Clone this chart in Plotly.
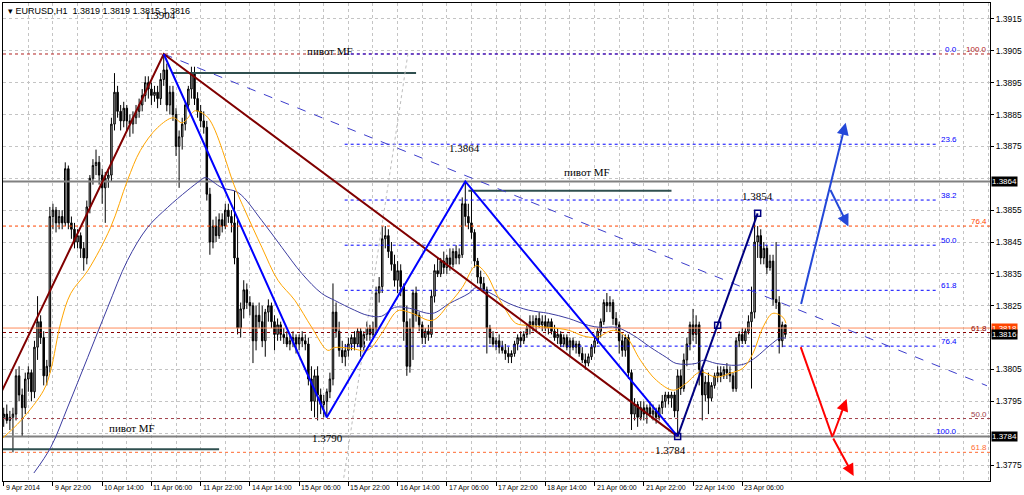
import plotly.graph_objects as go

# ---------------- DATA ----------------
opens = [
1.3790,1.3791,1.3789,1.3790,1.3791,1.3803,1.3797,1.3793,1.3802,1.3804,
1.3798,1.3812,1.3820,1.3815,1.3803,1.3806,1.3853,1.3855,1.3851,1.3853,
1.3851,1.3868,1.3851,1.3849,1.3845,1.3847,1.3843,1.3840,1.3856,1.3865,
1.3869,1.3870,1.3866,1.3862,1.3865,1.3866,1.3882,1.3892,1.3886,1.3883,
1.3887,1.3883,1.3882,1.3884,1.3886,1.3888,1.3891,1.3895,1.3893,1.3891,
1.3892,1.3890,1.3896,1.3899,1.3888,1.3892,1.3885,1.3875,1.3878,1.3882,
1.3888,1.3893,1.3898,1.3890,1.3886,1.3883,1.3881,1.3860,1.3845,1.3850,
1.3847,1.3852,1.3850,1.3855,1.3853,1.3851,1.3840,1.3818,1.3824,1.3830,
1.3826,1.3825,1.3814,1.3822,1.3820,1.3814,1.3823,1.3825,1.3820,1.3816,
1.3819,1.3816,1.3815,1.3813,1.3814,1.3815,1.3813,1.3815,1.3814,1.3813,
1.3802,1.3795,1.3803,1.3797,1.3794,1.3795,1.3798,1.3802,1.3823,1.3817,
1.3811,1.3809,1.3811,1.3813,1.3815,1.3813,1.3817,1.3812,1.3816,1.3818,
1.3816,1.3818,1.3829,1.3831,1.3846,1.3847,1.3842,1.3838,1.3833,1.3836,
1.3831,1.3820,1.3806,1.3818,1.3829,1.3822,1.3819,1.3815,1.3817,1.3816,
1.3828,1.3836,1.3835,1.3839,1.3837,1.3840,1.3838,1.3842,1.3840,1.3841,
1.3857,1.3853,1.3851,1.3848,1.3839,1.3834,1.3832,1.3830,1.3818,1.3815,
1.3813,1.3814,1.3812,1.3811,1.3810,1.3809,1.3810,1.3813,1.3815,1.3814,
1.3816,1.3818,1.3820,1.3819,1.3821,1.3819,1.3820,1.3818,1.3820,1.3817,
1.3815,1.3816,1.3813,1.3815,1.3812,1.3814,1.3812,1.3813,1.3810,1.3808,
1.3807,1.3809,1.3812,1.3814,1.3817,1.3820,1.3826,1.3825,1.3826,1.3821,
1.3819,1.3814,1.3811,1.3815,1.3804,1.3791,1.3794,1.3790,1.3793,1.3791,
1.3793,1.3791,1.3792,1.3790,1.3793,1.3795,1.3797,1.3796,1.3797,1.3792,
1.3803,1.3799,1.3808,1.3813,1.3819,1.3816,1.3819,1.3805,1.3797,1.3801,
1.3796,1.3800,1.3803,1.3804,1.3803,1.3805,1.3804,1.3803,1.3799,1.3814,
1.3816,1.3814,1.3817,1.3820,1.3823,1.3845,1.3847,1.3840,1.3843,1.3837,
1.3839,1.3827,1.3826,1.3814,1.3819]
highs = [
1.3793,1.3794,1.3792,1.3793,1.3805,1.3806,1.3799,1.3804,1.3806,1.3805,
1.3814,1.3828,1.3822,1.3817,1.3808,1.3856,1.3857,1.3856,1.3855,1.3855,
1.3870,1.3869,1.3853,1.3851,1.3849,1.3848,1.3845,1.3858,1.3866,1.3871,
1.3874,1.3872,1.3868,1.3867,1.3868,1.3884,1.3898,1.3894,1.3888,1.3889,
1.3888,1.3885,1.3886,1.3888,1.3890,1.3893,1.3897,1.3897,1.3895,1.3894,
1.3894,1.3898,1.3904,1.3901,1.3894,1.3894,1.3887,1.3880,1.3884,1.3889,
1.3894,1.3900,1.3900,1.3892,1.3888,1.3886,1.3883,1.3862,1.3852,1.3853,
1.3854,1.3854,1.3857,1.3857,1.3855,1.3861,1.3852,1.3826,1.3833,1.3832,
1.3828,1.3826,1.3825,1.3826,1.3825,1.3824,1.3827,1.3826,1.3822,1.3821,
1.3820,1.3818,1.3817,1.3816,1.3817,1.3816,1.3816,1.3817,1.3816,1.3815,
1.3806,1.3805,1.3806,1.3799,1.3797,1.3799,1.3804,1.3832,1.3826,1.3820,
1.3814,1.3813,1.3815,1.3816,1.3817,1.3818,1.3818,1.3817,1.3820,1.3819,
1.3820,1.3831,1.3834,1.3850,1.3850,1.3849,1.3845,1.3841,1.3839,1.3838,
1.3832,1.3825,1.3821,1.3830,1.3831,1.3823,1.3820,1.3818,1.3819,1.3830,
1.3838,1.3840,1.3840,1.3842,1.3841,1.3843,1.3843,1.3844,1.3843,1.3859,
1.3864,1.3857,1.3862,1.3849,1.3840,1.3836,1.3834,1.3831,1.3819,1.3817,
1.3815,1.3816,1.3814,1.3813,1.3812,1.3811,1.3814,1.3816,1.3817,1.3817,
1.3819,1.3822,1.3822,1.3822,1.3823,1.3822,1.3822,1.3821,1.3821,1.3819,
1.3818,1.3817,1.3816,1.3816,1.3815,1.3815,1.3814,1.3814,1.3812,1.3810,
1.3810,1.3813,1.3815,1.3818,1.3821,1.3827,1.3829,1.3828,1.3827,1.3823,
1.3820,1.3816,1.3816,1.3816,1.3805,1.3796,1.3795,1.3795,1.3795,1.3794,
1.3795,1.3794,1.3793,1.3794,1.3797,1.3798,1.3798,1.3798,1.3798,1.3805,
1.3805,1.3810,1.3815,1.3820,1.3824,1.3822,1.3820,1.3806,1.3803,1.3804,
1.3801,1.3804,1.3806,1.3806,1.3806,1.3807,1.3806,1.3804,1.3815,1.3817,
1.3818,1.3818,1.3822,1.3831,1.3854,1.3850,1.3849,1.3845,1.3844,1.3841,
1.3841,1.3845,1.3828,1.3820,1.3819]
lows = [
1.3787,1.3788,1.3786,1.3779,1.3789,1.3795,1.3784,1.3791,1.3798,1.3795,
1.3796,1.3808,1.3813,1.3800,1.3800,1.3804,1.3849,1.3848,1.3849,1.3849,
1.3850,1.3849,1.3846,1.3843,1.3843,1.3840,1.3836,1.3838,1.3854,1.3863,
1.3866,1.3863,1.3857,1.3851,1.3862,1.3864,1.3880,1.3884,1.3880,1.3881,
1.3880,1.3878,1.3879,1.3882,1.3884,1.3886,1.3889,1.3890,1.3888,1.3889,
1.3887,1.3888,1.3894,1.3886,1.3885,1.3883,1.3872,1.3862,1.3874,1.3880,
1.3886,1.3890,1.3888,1.3884,1.3881,1.3879,1.3858,1.3841,1.3843,1.3845,
1.3846,1.3848,1.3849,1.3851,1.3848,1.3838,1.3816,1.3815,1.3821,1.3824,
1.3822,1.3807,1.3811,1.3818,1.3812,1.3809,1.3820,1.3818,1.3811,1.3814,
1.3814,1.3813,1.3812,1.3811,1.3812,1.3810,1.3811,1.3812,1.3811,1.3800,
1.3792,1.3790,1.3789,1.3791,1.3790,1.3790,1.3796,1.3800,1.3815,1.3809,
1.3807,1.3806,1.3809,1.3811,1.3811,1.3812,1.3809,1.3811,1.3814,1.3814,
1.3815,1.3816,1.3826,1.3829,1.3843,1.3840,1.3836,1.3831,1.3829,1.3828,
1.3814,1.3803,1.3804,1.3808,1.3820,1.3817,1.3813,1.3813,1.3814,1.3815,
1.3826,1.3834,1.3834,1.3835,1.3835,1.3836,1.3837,1.3838,1.3838,1.3840,
1.3850,1.3849,1.3846,1.3837,1.3832,1.3830,1.3829,1.3810,1.3813,1.3812,
1.3811,1.3810,1.3810,1.3808,1.3807,1.3807,1.3809,1.3811,1.3812,1.3813,
1.3815,1.3816,1.3817,1.3817,1.3818,1.3817,1.3817,1.3816,1.3816,1.3814,
1.3813,1.3812,1.3812,1.3811,1.3809,1.3811,1.3810,1.3809,1.3807,1.3805,
1.3806,1.3808,1.3810,1.3813,1.3815,1.3819,1.3823,1.3823,1.3819,1.3817,
1.3810,1.3809,1.3809,1.3802,1.3786,1.3789,1.3787,1.3789,1.3789,1.3788,
1.3790,1.3789,1.3788,1.3789,1.3791,1.3793,1.3794,1.3793,1.3790,1.3784,
1.3797,1.3798,1.3806,1.3811,1.3814,1.3813,1.3800,1.3789,1.3795,1.3791,
1.3795,1.3799,1.3801,1.3801,1.3802,1.3802,1.3801,1.3798,1.3798,1.3812,
1.3813,1.3813,1.3816,1.3799,1.3821,1.3840,1.3838,1.3838,1.3835,1.3836,
1.3825,1.3824,1.3810,1.3812,1.3815]
closes = [
1.3791,1.3789,1.3790,1.3791,1.3803,1.3797,1.3793,1.3802,1.3804,1.3798,
1.3812,1.3820,1.3815,1.3803,1.3806,1.3853,1.3855,1.3851,1.3853,1.3851,
1.3868,1.3851,1.3849,1.3845,1.3847,1.3843,1.3840,1.3856,1.3865,1.3869,
1.3870,1.3866,1.3862,1.3865,1.3866,1.3882,1.3892,1.3886,1.3883,1.3887,
1.3883,1.3882,1.3884,1.3886,1.3888,1.3891,1.3895,1.3893,1.3891,1.3892,
1.3890,1.3896,1.3899,1.3888,1.3892,1.3885,1.3875,1.3878,1.3882,1.3888,
1.3893,1.3898,1.3890,1.3886,1.3883,1.3881,1.3860,1.3845,1.3850,1.3847,
1.3852,1.3850,1.3855,1.3853,1.3851,1.3840,1.3818,1.3824,1.3830,1.3826,
1.3825,1.3814,1.3822,1.3820,1.3814,1.3823,1.3825,1.3820,1.3816,1.3819,
1.3816,1.3815,1.3813,1.3814,1.3815,1.3813,1.3815,1.3814,1.3813,1.3802,
1.3795,1.3803,1.3797,1.3794,1.3795,1.3798,1.3802,1.3823,1.3817,1.3811,
1.3809,1.3811,1.3813,1.3815,1.3813,1.3817,1.3812,1.3816,1.3818,1.3816,
1.3818,1.3829,1.3831,1.3846,1.3847,1.3842,1.3838,1.3833,1.3836,1.3831,
1.3820,1.3806,1.3818,1.3829,1.3822,1.3819,1.3815,1.3817,1.3816,1.3828,
1.3836,1.3835,1.3839,1.3837,1.3840,1.3838,1.3842,1.3840,1.3841,1.3857,
1.3853,1.3851,1.3848,1.3839,1.3834,1.3832,1.3830,1.3818,1.3815,1.3813,
1.3814,1.3812,1.3811,1.3810,1.3809,1.3810,1.3813,1.3815,1.3814,1.3816,
1.3818,1.3820,1.3819,1.3821,1.3819,1.3820,1.3818,1.3820,1.3817,1.3815,
1.3816,1.3813,1.3815,1.3812,1.3814,1.3812,1.3813,1.3810,1.3808,1.3807,
1.3809,1.3812,1.3814,1.3817,1.3820,1.3826,1.3825,1.3826,1.3821,1.3819,
1.3814,1.3811,1.3815,1.3804,1.3791,1.3794,1.3790,1.3793,1.3791,1.3793,
1.3791,1.3792,1.3790,1.3793,1.3795,1.3797,1.3796,1.3797,1.3792,1.3803,
1.3799,1.3808,1.3813,1.3819,1.3816,1.3819,1.3805,1.3797,1.3801,1.3796,
1.3800,1.3803,1.3804,1.3803,1.3805,1.3804,1.3803,1.3799,1.3814,1.3816,
1.3814,1.3817,1.3820,1.3823,1.3845,1.3847,1.3840,1.3843,1.3837,1.3839,
1.3827,1.3826,1.3814,1.3819,1.3816]

# time axis labels (bar index of each label)
tick_pos = [0, 16, 32, 48, 64, 80, 96, 112, 128, 144, 160, 176, 192, 208, 224, 240]
tick_labels = ["9 Apr 2014", "9 Apr 22:00", "10 Apr 14:00", "11 Apr 06:00", "11 Apr 22:00",
               "14 Apr 14:00", "15 Apr 06:00", "15 Apr 22:00", "16 Apr 14:00", "17 Apr 06:00",
               "17 Apr 22:00", "18 Apr 14:00", "21 Apr 06:00", "21 Apr 22:00", "22 Apr 14:00",
               "23 Apr 06:00"]
price_ticks = [1.3915, 1.3905, 1.3895, 1.3885, 1.3875, 1.3855, 1.3845, 1.3835,
               1.3825, 1.3805, 1.3795, 1.3775]

# moving averages
ma_fast_x = [-0.3, 5.6, 13, 15.3, 18.5, 21.8, 27.3, 34.7, 40.2, 44.4, 50, 55.1, 58, 61.3, 62.3,
             66.4, 75.2, 78.4, 83.9, 89.1, 94.6, 100.1, 105.3, 107.5, 113, 118.2, 122.8, 127,
             128.6, 132.8, 139.3, 144.8, 149, 153.5, 156.7, 160, 163.2, 166.4, 170.6, 177.1,
             183.6, 188.4, 192.7, 198.2, 202.4, 206.9, 212.1, 217.6, 221.8, 226.3, 231.5, 236,
             240.2, 243.5, 246.7, 249.9, 253.2, 254.2]
ma_fast_y = [1.37835, 1.3789, 1.37985, 1.38048, 1.38195, 1.38289, 1.3836, 1.38495, 1.38643,
             1.38737, 1.38809, 1.3884, 1.38824, 1.38856, 1.38862, 1.3884, 1.3862, 1.38549,
             1.38433, 1.3833, 1.38267, 1.38182, 1.3811, 1.38119, 1.38116, 1.3811, 1.38163,
             1.38226, 1.38236, 1.38226, 1.38204, 1.38257, 1.38307, 1.38376, 1.38351, 1.38289,
             1.38236, 1.38195, 1.38188, 1.38182, 1.38173, 1.38155, 1.38151, 1.38173, 1.38151,
             1.38079, 1.38016, 1.37985, 1.38007, 1.38042, 1.38026, 1.38038, 1.38054, 1.38101,
             1.38182, 1.38226, 1.38214, 1.38195]
ma_slow_x = [9.8, 15.3, 20.8, 27.3, 33.8, 40.2, 46.7, 53.2, 59.6, 63.9, 65.5, 71, 76.2, 83.9,
             90.4, 96.9, 103.3, 107.5, 114, 118.2, 122.8, 127, 131.8, 139.3, 144.8, 151.2,
             153.5, 157.7, 164.2, 170.6, 177.1, 183.6, 190.1, 194, 199.1, 204.6, 210.1, 215.3,
             218.5, 225, 227.3, 231.5, 238, 241.2, 244.4, 249, 252.2, 254.2]
ma_slow_y = [1.37725, 1.37806, 1.37932, 1.38088, 1.38245, 1.38392, 1.38495, 1.38558, 1.38611,
             1.38643, 1.38652, 1.3862, 1.38605, 1.38517, 1.38433, 1.38351, 1.38289, 1.38267,
             1.38236, 1.3822, 1.38217, 1.38245, 1.38242, 1.38226, 1.38257, 1.38289, 1.38307,
             1.38292, 1.38257, 1.38236, 1.38226, 1.3821, 1.38188, 1.38182, 1.38182, 1.38157,
             1.3812, 1.38088, 1.38069, 1.38069, 1.38079, 1.38069, 1.38063, 1.38069, 1.38088,
             1.38126, 1.38148, 1.38148]

# drawn objects (bar index, price)
zigzag_x = [52, 105, 150, 219]
zigzag_y = [1.3904, 1.3790, 1.3864, 1.3784]
last_leg_x = [219, 232, 245]
last_leg_y = [1.3784, 1.38189, 1.3854]
maroon_x = [-0.9, 52, 219]
maroon_y = [1.37976, 1.3904, 1.3784]
trend_dash_x = [52, 319.5]
trend_dash_y = [1.3904, 1.37999]
gray_diag_x = [110.5, 131.5]
gray_diag_y = [1.3771, 1.3905]

blue_fib_hi, blue_fib_lo = 1.3904, 1.3784
blue_fib_levels = [0.0, 23.6, 38.2, 50.0, 61.8, 76.4, 100.0]
blue_fib_x = [110.8, 303.3]

red_fib_prices = [1.3904, 1.3850, 1.38166, 1.37896, 1.3779]
red_fib_labels = ["100.0", "76.4", "61.8", "50.0", "61.8"]
red_fib_colors = ["#b22222", "#ff4500", "#8b0000", "#a0404a", "#ff6a30"]

pivot_segments = [((55, 134), 1.3898), ((151, 217), 1.38611), ((-1, 70), 1.3780)]
levels_gray = [1.3864, 1.3784]
level_orange = 1.3818

text_labels = [("1.3904", 50.9, 1.39163), ("пивот MF", 106, 1.3905), ("1.3864", 149.6, 1.38746),
               ("пивот MF", 189.4, 1.38671), ("1.3854", 245.1, 1.38593),
               ("пивот MF", 41.8, 1.37866), ("1.3790", 105.3, 1.37835), ("1.3784", 216.6, 1.37797)]

bull_arrows = [((259, 1.38251), (273.6, 1.38824)), ((268.4, 1.38618), (274.5, 1.38499))]
bear_arrows = [((269.3, 1.37838), (273.9, 1.37957)), ((269.3, 1.37838), (276.2, 1.37716))]
bear_shaft = ((259, 1.38120), (269.3, 1.37838))

price_boxes = [(1.3864, "#000000"), (1.3818, "#ff4500"), (1.3816, "#000000"), (1.3784, "#000000")]

X_MIN, X_MAX = -0.23, 320.5
Y_MIN, Y_MAX = 1.3770, 1.3920

# ---------------- FIGURE ----------------
fig = go.Figure()
bar_idx = list(range(len(closes)))
GRID = "#c4c4c4"

# red fib levels (full width)
for p, c in zip(red_fib_prices, red_fib_colors):
    fig.add_trace(go.Scatter(x=[X_MIN, X_MAX], y=[p, p], mode="lines",
                             line=dict(color=c, width=1, dash="dot"), hoverinfo="skip"))
# blue fib levels
for lv in blue_fib_levels:
    p = blue_fib_hi - lv / 100.0 * (blue_fib_hi - blue_fib_lo)
    fig.add_trace(go.Scatter(x=blue_fib_x, y=[p, p], mode="lines",
                             line=dict(color="#0000ff", width=1, dash="dot"), hoverinfo="skip"))

# horizontal gray levels
for p in levels_gray:
    fig.add_trace(go.Scatter(x=[X_MIN, X_MAX], y=[p, p], mode="lines",
                             line=dict(color="#808080", width=2), hoverinfo="skip"))
fig.add_trace(go.Scatter(x=[X_MIN, X_MAX], y=[level_orange, level_orange], mode="lines",
                         line=dict(color="#ff8c5a", width=1), hoverinfo="skip"))
# pivot MF segments
for (x0, x1), p in pivot_segments:
    fig.add_trace(go.Scatter(x=[x0, x1], y=[p, p], mode="lines",
                             line=dict(color="#2f4f4f", width=2), hoverinfo="skip"))

# gray diagonal
fig.add_trace(go.Scatter(x=gray_diag_x, y=gray_diag_y, mode="lines",
                         line=dict(color="#bdbdbd", width=1, dash="dot"), hoverinfo="skip"))

# candles
fig.add_trace(go.Candlestick(x=bar_idx, open=opens, high=highs, low=lows, close=closes,
                             increasing=dict(line=dict(color="#000000", width=1), fillcolor="#a9a9a9"),
                             decreasing=dict(line=dict(color="#000000", width=1), fillcolor="#000000"),
                             whiskerwidth=0, hoverinfo="skip"))

# moving averages
fig.add_trace(go.Scatter(x=ma_slow_x, y=ma_slow_y, mode="lines",
                         line=dict(color="#3c3ca0", width=1, shape="spline"), hoverinfo="skip"))
fig.add_trace(go.Scatter(x=ma_fast_x, y=ma_fast_y, mode="lines",
                         line=dict(color="#ffa500", width=1, shape="spline"), hoverinfo="skip"))

# trend lines
fig.add_trace(go.Scatter(x=trend_dash_x, y=trend_dash_y, mode="lines",
                         line=dict(color="#3c3ccc", width=1, dash="dash"), hoverinfo="skip"))
fig.add_trace(go.Scatter(x=maroon_x, y=maroon_y, mode="lines",
                         line=dict(color="#800000", width=2), hoverinfo="skip"))
fig.add_trace(go.Scatter(x=zigzag_x, y=zigzag_y, mode="lines",
                         line=dict(color="#0000ff", width=2), hoverinfo="skip"))
fig.add_trace(go.Scatter(x=last_leg_x, y=last_leg_y, mode="lines+markers",
                         line=dict(color="#000080", width=2),
                         marker=dict(symbol="square-open", size=6, color="#000080",
                                     line=dict(width=1.5, color="#000080")),
                         hoverinfo="skip"))

# arrow shafts without heads
fig.add_trace(go.Scatter(x=[bear_shaft[0][0], bear_shaft[1][0]],
                         y=[bear_shaft[0][1], bear_shaft[1][1]], mode="lines",
                         line=dict(color="#ff0000", width=2), hoverinfo="skip"))

annotations = []
for (x0, y0), (x1, y1) in bull_arrows:
    annotations.append(dict(x=x1, y=y1, ax=x0, ay=y0, xref="x", yref="y", axref="x", ayref="y",
                            showarrow=True, arrowhead=2, arrowsize=1.2, arrowwidth=2,
                            arrowcolor="#2448d8", text=""))
for (x0, y0), (x1, y1) in bear_arrows:
    annotations.append(dict(x=x1, y=y1, ax=x0, ay=y0, xref="x", yref="y", axref="x", ayref="y",
                            showarrow=True, arrowhead=2, arrowsize=1.2, arrowwidth=2,
                            arrowcolor="#ff0000", text=""))

# text objects
for t, xx, yy in text_labels:
    annotations.append(dict(x=xx, y=yy, xref="x", yref="y", text=t, showarrow=False,
                            font=dict(family="Liberation Serif", size=11, color="#000000")))

# blue fib labels
for lv in blue_fib_levels:
    p = blue_fib_hi - lv / 100.0 * (blue_fib_hi - blue_fib_lo)
    annotations.append(dict(x=310.5, y=p, xref="x", yref="y", text=f"{lv:.1f}", showarrow=False,
                            xanchor="right", yanchor="bottom", yshift=-2,
                            font=dict(family="Liberation Sans", size=8, color="#0000ff")))
# red fib labels
for p, lab, c in zip(red_fib_prices, red_fib_labels, red_fib_colors):
    annotations.append(dict(x=320.2, y=p, xref="x", yref="y", text=lab, showarrow=False,
                            xanchor="right", yanchor="bottom", yshift=-2,
                            font=dict(family="Liberation Sans", size=8, color=c)))

# time labels
for pos, lab in zip(tick_pos, tick_labels):
    annotations.append(dict(x=pos, y=0, xref="x", yref="paper", text=lab, showarrow=False,
                            xanchor="left", yanchor="top", xshift=0, yshift=-1,
                            font=dict(family="Liberation Sans", size=7, color="#000000")))

# price boxes on axis
for p, bg in price_boxes:
    annotations.append(dict(x=1, y=p, xref="paper", yref="y", text=f"{p:.4f}", showarrow=False,
                            xanchor="left", xshift=1, bgcolor=bg, borderpad=0,
                            font=dict(family="Liberation Sans", size=8, color="#ffffff")))

# header
annotations.append(dict(x=0, y=1, xref="paper", yref="paper", xanchor="left", yanchor="top",
                        xshift=3, yshift=-1, showarrow=False,
                        text="▾ EURUSD,H1  1.3819 1.3819 1.3815 1.3816",
                        font=dict(family="Liberation Sans", size=9, color="#000000")))

fig.update_layout(
    width=1024, height=495,
    margin=dict(l=2, r=31, t=2, b=14),
    paper_bgcolor="#ffffff", plot_bgcolor="#ffffff",
    showlegend=False,
    annotations=annotations,
    xaxis=dict(range=[X_MIN, X_MAX], rangeslider=dict(visible=False),
               tickvals=tick_pos, ticktext=[""] * len(tick_pos), ticks="outside", ticklen=4,
               tickcolor="#000000", showgrid=True, gridcolor=GRID, griddash="dot", gridwidth=1,
               minor=dict(dtick=8, tick0=0, showgrid=True, gridcolor=GRID, griddash="dot", ticks=""),
               showline=True, linecolor="#000000", linewidth=1, mirror=True, zeroline=False),
    yaxis=dict(range=[Y_MIN, Y_MAX], side="right", tickvals=price_ticks, tickformat=".4f",
               ticks="outside", ticklen=3, tickcolor="#000000",
               tickfont=dict(family="Liberation Sans", size=8.5, color="#000000"),
               showgrid=True, gridcolor=GRID, griddash="dot",
               minor=dict(dtick=0.001, tick0=1.3775, showgrid=True, gridcolor=GRID, griddash="dot", ticks=""),
               showline=True, linecolor="#000000", linewidth=1, mirror=True, zeroline=False),
)

fig.write_html("out.html", config={"displayModeBar": False},
               post_script="document.body.style.margin='0px';document.body.style.overflow='hidden';")
